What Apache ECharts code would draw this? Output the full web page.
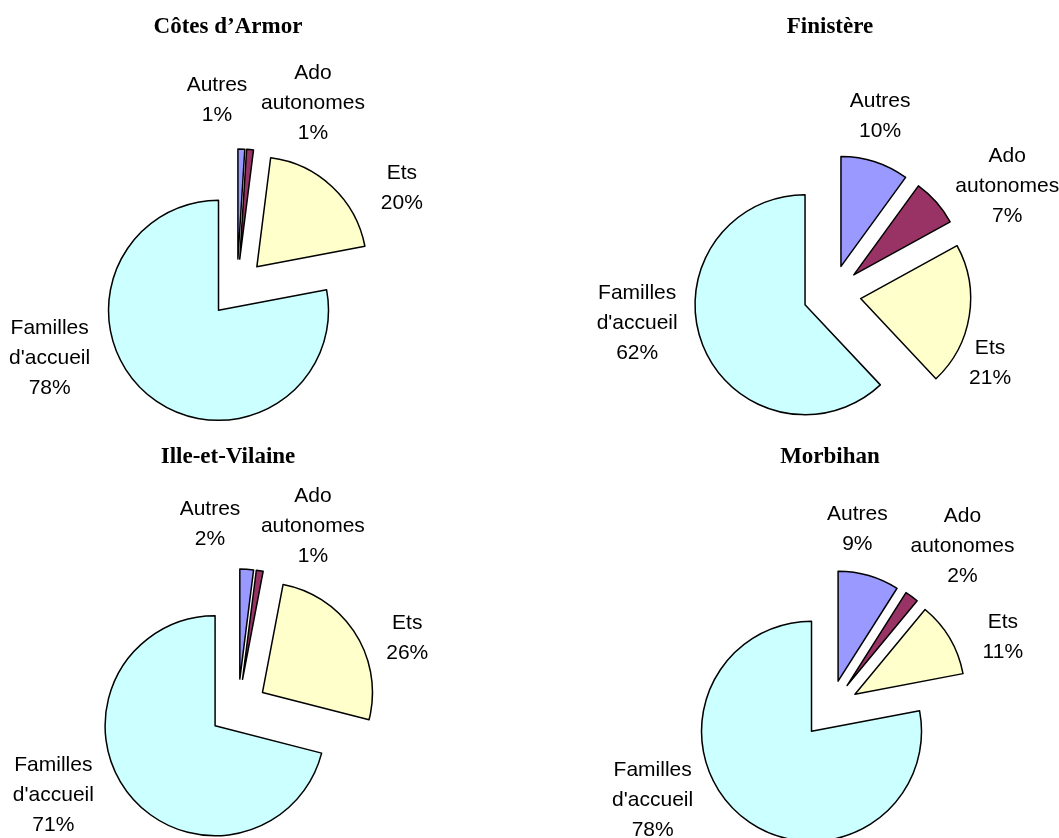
<!DOCTYPE html>
<html>
<head>
<meta charset="utf-8">
<script src="https://cdn.jsdelivr.net/npm/echarts@6/dist/echarts.min.js"></script>
<style>
html,body{margin:0;padding:0;background:#fff;}
#chart{width:1059px;height:838px;}
</style>
</head>
<body>
<div id="chart"></div>
<script>
// ---- data ----
const categories = ['Autres', 'Ado autonomes', 'Ets', "Familles d'accueil"];
const regions = ['Côtes d’Armor', 'Finistère', 'Ille-et-Vilaine', 'Morbihan'];
const cotesArmor = [1, 1, 20, 78];
const finistere = [10, 7, 21, 62];
const illeEtVilaine = [2, 1, 26, 71];
const morbihan = [9, 2, 11, 78];
const seriesValues = [cotesArmor, finistere, illeEtVilaine, morbihan];

// ---- layout / style ----
const sliceColors = ['#9999FF', '#993366', '#FFFFCC', '#CCFFFF'];
const pieCenters = [[237, 288], [832, 294], [238, 708], [830, 709]];
const titlePos = [[223, 11], [825, 11], [223, 441], [825, 441]];
const pieRadius = 110;
// small nudges applied to the library-computed label anchors (Excel-like label placement)
const labelNudge = [
  [[-30, -29], [56, -27], [51, 16], [-81, -52]],
  [[-6, -27], [51, -3], [-4, 44], [-42, -29]],
  [[-43, -25], [45, -25], [30, 15], [-54, -10]],
  [[-22, -27], [34, -34], [31, 9], [-71, -31]]
];

const chart = echarts.init(document.getElementById('chart'), null, {renderer: 'canvas'});

const titles = regions.map((r, i) => ({
  text: r,
  left: titlePos[i][0],
  top: titlePos[i][1],
  textAlign: 'center',
  textStyle: {fontFamily: 'Liberation Serif', fontWeight: 'bold', fontSize: 23, color: '#000'}
}));

const series = seriesValues.map((vals, si) => ({
  type: 'pie',
  center: pieCenters[si],
  radius: pieRadius,
  startAngle: 90,
  clockwise: true,
  selectedMode: 'multiple',
  selectedOffset: 29,
  avoidLabelOverlap: false,
  animation: false,
  emphasis: {disabled: true, scale: false},
  itemStyle: {borderColor: '#000', borderWidth: 1.5},
  select: {itemStyle: {borderColor: '#000', borderWidth: 1.5}},
  label: {
    show: true,
    position: 'outside',
    fontFamily: 'Liberation Sans',
    fontSize: 21,
    lineHeight: 30,
    color: '#000',
    formatter: p => p.name.replace(' ', '\n') + '\n' + Math.round(p.percent) + '%'
  },
  labelLine: {show: false, length: 20, length2: 0},
  labelLayout: p => ({
    align: 'center',
    dx: labelNudge[si][p.dataIndex][0],
    dy: labelNudge[si][p.dataIndex][1]
  }),
  data: categories.map((c, k) => ({
    name: c,
    value: vals[k],
    selected: true,
    itemStyle: {color: sliceColors[k]}
  }))
}));

chart.setOption({
  backgroundColor: '#fff',
  animation: false,
  title: titles,
  series: series
});
</script>
</body>
</html>
